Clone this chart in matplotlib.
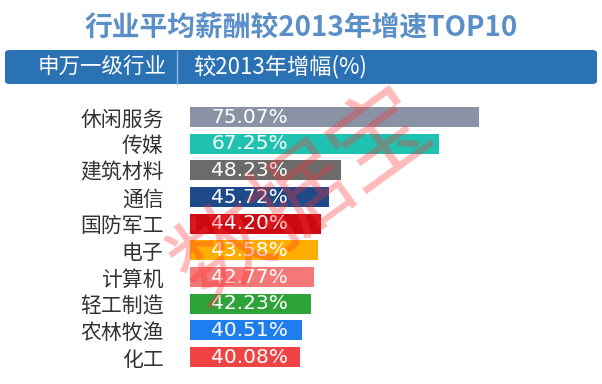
import numpy as np
import matplotlib
matplotlib.use("Agg")
from matplotlib import pyplot as plt
from matplotlib.patches import FancyBboxPatch
from matplotlib.lines import Line2D

plt.rcParams['font.family'] = ['Noto Sans CJK SC', 'DejaVu Sans']

# data
industries = ["休闲服务", "传媒", "建筑材料", "通信", "国防军工",
              "电子", "计算机", "轻工制造", "农林牧渔", "化工"]
growth = [75.07, 67.25, 48.23, 45.72, 44.20, 43.58, 42.77, 42.23, 40.51, 40.08]
colors = ["#8a93a6", "#1fc2b0", "#6b6b6b", "#1f4a8a", "#cc0a14",
          "#ffae00", "#f57878", "#2ea33a", "#1e7ef0", "#f04444"]

W, H = 602, 384
fig = plt.figure(figsize=(W / 100, H / 100), dpi=100)

def fx(px):  # pixel -> figure fraction (x)
    return px / W

def fy(py):  # pixel from top -> figure fraction (y)
    return 1 - py / H

# title
fig.text(0.5, fy(27), "行业平均薪酬较2013年增速TOP10", ha="center", va="center",
         fontsize=20, fontweight="bold", color="#5b8fc7")

# header strip
hdr = FancyBboxPatch((fx(5), fy(84)), fx(592), 34 / H,
                     boxstyle="round,pad=0,rounding_size=0.008",
                     transform=fig.transFigure, facecolor="#2b72b5",
                     edgecolor="none")
fig.add_artist(hdr)
fig.add_artist(Line2D([fx(177), fx(177)], [fy(51), fy(84)],
                      transform=fig.transFigure, color="#8db8e0", lw=1))
fig.text(fx(167), fy(67), "申万一级行业", ha="right", va="center",
         fontsize=15.5, color="white")
fig.text(fx(193), fy(67), "较2013年增幅(%)", ha="left", va="center",
         fontsize=16, color="white")

# bar area: bars start at px 190, 5.11 px per unit
ax = fig.add_axes([fx(190), fy(374), fx(412), (374 - 100) / H])
y = np.arange(len(industries))
ax.barh(y, growth, height=0.75, color=colors)
ax.set_xlim(18.6, 18.6 + 412 / 5.11)
ax.set_ylim(9.636, -0.6375)
ax.set_yticks(y)
ax.set_yticklabels(industries, fontsize=15, color="#333333")
ax.tick_params(axis="y", length=0, pad=19)
ax.set_xticks([])
for s in ax.spines.values():
    s.set_visible(False)

for i, v in enumerate(growth):
    ax.text(30.3, i, "%.2f%%" % v, ha="center", va="center",
            fontsize=14.5, color="white", family="DejaVu Sans")

# watermark
fig.text(fx(303), fy(198), "数据宝", ha="center", va="center", rotation=36,
         fontsize=70, color="#ff3030", alpha=0.33)

fig.savefig("out.png", dpi=100)
